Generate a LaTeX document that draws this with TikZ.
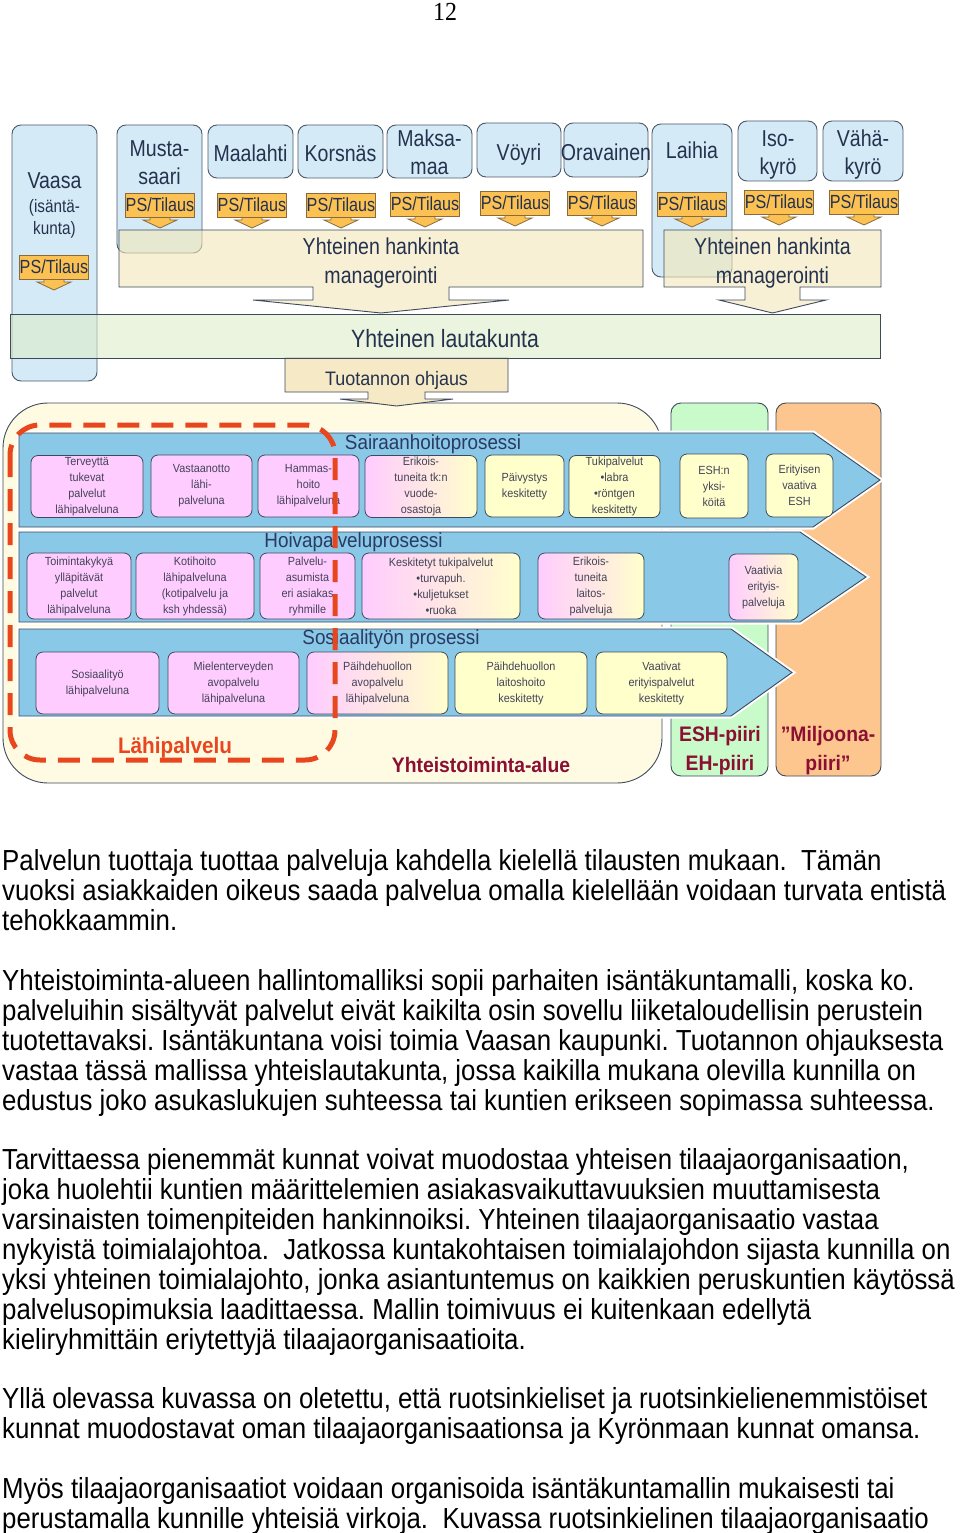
\documentclass[tikz,border=0pt]{standalone}
\usepackage{fontspec}
\setmainfont{Liberation Sans}
\newfontfamily\fN{Liberation Sans}[FakeStretch=0.85]
\newfontfamily\fR{Liberation Sans}[FakeStretch=0.92]
\newfontfamily\fB{Liberation Sans}[FakeStretch=0.89]
\newfontfamily\fS{Liberation Serif}[FakeStretch=0.92]
\definecolor{muniF}{HTML}{D4EAF6}
\definecolor{muniB}{HTML}{4E5A6A}
\definecolor{navy}{HTML}{25324F}
\definecolor{psF}{HTML}{FBC152}
\definecolor{psB}{HTML}{8A6A3A}
\definecolor{hankF}{HTML}{F3E7B8}
\definecolor{lautF}{HTML}{DDEDC9}
\definecolor{ohjF}{HTML}{F6E9C6}
\definecolor{bigF}{HTML}{FFFBE3}
\definecolor{grnF}{HTML}{C9FAC9}
\definecolor{orgF}{HTML}{FDC68E}
\definecolor{arrF}{HTML}{89C8E6}
\definecolor{lineB}{HTML}{3E4A5C}
\definecolor{pinkF}{HTML}{FFCCFF}
\definecolor{yelF}{HTML}{FFFFCC}
\definecolor{boxT}{HTML}{434357}
\definecolor{titleT}{HTML}{2A3A62}
\definecolor{dred}{HTML}{8A0F33}
\definecolor{rorg}{HTML}{E8461E}
\newcommand{\psnode}[3]{%
  \draw[psarr] (#2-10,#3+11) -- (#2-10,#3+15) -- (#2-17,#3+15) -- (#2,#3+23) -- (#2+17,#3+15) -- (#2+10,#3+15) -- (#2+10,#3+11) -- cycle;
  \node[ps] (#1) at (#2,#3) {PS/Tilaus};}
\begin{document}
\frenchspacing
\begin{tikzpicture}[x=1pt,y=-1pt,
  muni/.style={draw=muniB, fill=muniF, rounded corners=9pt, line width=0.9pt, inner sep=0pt},
  munitext/.style={anchor=base, inner sep=0pt, text=navy, font=\fN\fontsize{23}{28}\selectfont},
  ps/.style={draw=psB, fill=psF, line width=0.8pt, inner sep=0pt, minimum width=66, minimum height=24, text=navy, font=\fN\fontsize{19}{22}\selectfont},
  psarr/.style={draw=psB, fill=psF, line width=0.8pt},
  hank/.style={draw=lineB, fill=hankF, fill opacity=0.6, line width=0.9pt},
  ibox/.style={draw=lineB, line width=0.8pt, rounded corners=7pt, inner sep=1pt, align=center, text=boxT, font=\fR\fontsize{11.8}{16}\selectfont},
  pinkbox/.style={ibox, fill=pinkF},
  yelbox/.style={ibox, fill=yelF},
  gradbox/.style={ibox, left color=pinkF, right color=yelF},
  parr/.style={draw=lineB, fill=arrF, line width=0.9pt, preaction={draw=white, line width=5pt}},
  ptitle/.style={anchor=base, text=titleT, font=\fR\fontsize{20.5}{24}\selectfont, inner sep=0pt},
  bigl/.style={anchor=base, inner sep=0pt, font=\fR\bfseries\fontsize{21}{29}\selectfont},
  bodyline/.style={anchor=base west, inner sep=0pt, font=\fB\fontsize{29}{30}\selectfont}
]
\useasboundingbox (0,0) rectangle (960,1533);
\fill[white] (0,0) rectangle (960,1533);

\node[font=\fS\fontsize{26}{30}\selectfont, inner sep=0pt] (pg) at (445,12) {12};

% ---------- lower area containers ----------
\node[draw=lineB, fill=bigF, line width=0.9pt, rounded corners=45pt, minimum width=659, minimum height=380, inner sep=0pt] (yta) at (332.5,593) {};
\node[draw=lineB, fill=grnF, line width=0.9pt, rounded corners=10pt, minimum width=97, minimum height=373, inner sep=0pt] (eshbox) at (719.5,589.5) {};
\node[draw=lineB, fill=orgF, line width=0.9pt, rounded corners=10pt, minimum width=105, minimum height=373, inner sep=0pt] (milbox) at (828.5,589.5) {};
\node[bigl, text=dred] (eshT1) at (720,741) {ESH-piiri};
\node[bigl, text=dred] (eshT2) at (720,770) {EH-piiri};
\node[bigl, text=dred] (milT1) at (828,741) {”Miljoona-};
\node[bigl, text=dred] (milT2) at (828,770) {piiri”};
\node[bigl, text=dred] (ytaT) at (481,772) {Yhteistoiminta-alue};
\node[bigl, text=rorg, font=\fR\bfseries\fontsize{22.5}{29}\selectfont] (lahiT) at (175,753.5) {Lähipalvelu};

% ---------- process arrows ----------
\draw[parr] (19,433) -- (813,433) -- (880,480) -- (813,527) -- (19,527) -- cycle;
\draw[parr] (19,532) -- (800,532) -- (866,577) -- (800,622) -- (19,622) -- cycle;
\draw[parr] (19,629) -- (731,629) -- (792,672.5) -- (731,716) -- (19,716) -- cycle;
\node[ptitle] (t1) at (433,449.5) {Sairaanhoitoprosessi};
\node[ptitle] (t2) at (353.5,547.5) {Hoivapalveluprosessi};
\node[ptitle] (t3) at (391,644.5) {Sosiaalityön prosessi};

% row 1
\node[pinkbox, minimum width=112, minimum height=62] (b11) at (87,486.5) {Terveyttä\\tukevat\\palvelut\\lähipalveluna};
\node[pinkbox, minimum width=101, minimum height=62] (b12) at (201.5,486) {Vastaanotto\\lähi-\\palveluna};
\node[pinkbox, minimum width=101, minimum height=62] (b13) at (308.5,486) {Hammas-\\hoito\\lähipalveluna};
\node[gradbox, minimum width=112, minimum height=62] (b14) at (421,486.5) {Erikois-\\tuneita tk:n\\vuode-\\osastoja};
\node[yelbox, minimum width=79, minimum height=62] (b15) at (524.5,486) {Päivystys\\keskitetty};
\node[yelbox, minimum width=91, minimum height=62] (b16) at (614.5,486.5) {Tukipalvelut\\•labra\\•röntgen\\keskitetty};
\node[yelbox, minimum width=68, minimum height=64] (b17) at (714,486) {ESH:n\\yksi-\\köitä};
\node[yelbox, minimum width=67, minimum height=63] (b18) at (799.5,485.5) {Erityisen\\vaativa\\ESH};
% row 2
\node[pinkbox, minimum width=104, minimum height=66] (b21) at (79,586) {Toimintakykyä\\ylläpitävät\\palvelut\\lähipalveluna};
\node[pinkbox, minimum width=118, minimum height=66] (b22) at (195,586) {Kotihoito\\lähipalveluna\\(kotipalvelu ja\\ksh yhdessä)};
\node[pinkbox, minimum width=95, minimum height=66] (b23) at (307.5,586) {Palvelu-\\asumista\\eri asiakas\\ryhmille};
\node[gradbox, minimum width=158, minimum height=66] (b24) at (441,586) {Keskitetyt tukipalvelut\\•turvapuh.\\•kuljetukset\\•ruoka};
\node[gradbox, minimum width=106, minimum height=66] (b25) at (591,586) {Erikois-\\tuneita\\laitos-\\palveluja};
\node[gradbox, minimum width=69, minimum height=66] (b26) at (763.5,587) {Vaativia\\erityis-\\palveluja};
% row 3
\node[pinkbox, minimum width=123, minimum height=62] (b31) at (97.5,683) {Sosiaalityö\\lähipalveluna};
\node[pinkbox, minimum width=131, minimum height=62] (b32) at (233.5,683) {Mielenterveyden\\avopalvelu\\lähipalveluna};
\node[gradbox, minimum width=141, minimum height=62] (b33) at (377.5,683) {Päihdehuollon\\avopalvelu\\lähipalveluna};
\node[yelbox, minimum width=132, minimum height=62] (b34) at (521,683) {Päihdehuollon\\laitoshoito\\keskitetty};
\node[yelbox, minimum width=131, minimum height=62] (b35) at (661.5,683) {Vaativat\\erityispalvelut\\keskitetty};

% red dashed Lähipalvelu outline
\draw[rorg, line width=5pt, dash pattern=on 22pt off 12pt, rounded corners=30pt] (10,425) rectangle (335,760);

% ---------- top area ----------
\node[muni, minimum width=85, minimum height=256] (vaasa) at (54.5,253) {};
\node[muni, minimum width=85, minimum height=128] (musta) at (159.5,189) {};
\node[muni, minimum width=85, minimum height=53] (maalahti) at (250.5,151.5) {};
\node[muni, minimum width=85, minimum height=53] (korsnas) at (340.5,151.5) {};
\node[muni, minimum width=85, minimum height=53] (maksamaa) at (429.5,151.5) {};
\node[muni, minimum width=84, minimum height=54] (voyri) at (519,150) {};
\node[muni, minimum width=84, minimum height=54] (oravainen) at (606,150) {};
\node[muni, minimum width=80, minimum height=153] (laihia) at (692,200.5) {};
\node[muni, minimum width=79, minimum height=60] (isokyro) at (777.5,151) {};
\node[muni, minimum width=80, minimum height=60] (vahakyro) at (863,151) {};
\node[munitext] (vaasaT) at (54.5,188.5) {Vaasa};
\node[munitext, font=\fN\fontsize{18}{22}\selectfont] (vaasaT2) at (54.5,212) {(isäntä-};
\node[munitext, font=\fN\fontsize{18}{22}\selectfont] (vaasaT3) at (54.5,234) {kunta)};
\node[munitext] (mustaT1) at (159.5,156.5) {Musta-};
\node[munitext] (mustaT2) at (159.5,184.5) {saari};
\node[munitext] (maalahtiT) at (250.5,161.5) {Maalahti};
\node[munitext] (korsnasT) at (340.5,161.5) {Korsnäs};
\node[munitext] (maksaT1) at (429.5,146.5) {Maksa-};
\node[munitext] (maksaT2) at (429.5,174.5) {maa};
\node[munitext] (voyriT) at (519,160.5) {Vöyri};
\node[munitext] (oravT) at (606,160.5) {Oravainen};
\node[munitext] (laihiaT) at (692,158.5) {Laihia};
\node[munitext] (isoT1) at (778,146.5) {Iso-};
\node[munitext] (isoT2) at (778,174.5) {kyrö};
\node[munitext] (vahaT1) at (863,146.5) {Vähä-};
\node[munitext] (vahaT2) at (863,174.5) {kyrö};

% hankinta callouts
\draw[hank] (119,230) -- (643,230) -- (643,287) -- (449,287) -- (449,300) -- (509,300) -- (381,313) -- (253,300) -- (313,300) -- (313,287) -- (119,287) -- cycle;
\draw[hank] (664,230) -- (881,230) -- (881,287) -- (800,287) -- (800,300) -- (826,300) -- (772.5,313) -- (719,300) -- (745,300) -- (745,287) -- (664,287) -- cycle;
\node[munitext] (hankL1) at (381,254.5) {Yhteinen hankinta};
\node[munitext] (hankL2) at (381,283.5) {managerointi};
\node[munitext] (hankR1) at (772.5,254.5) {Yhteinen hankinta};
\node[munitext] (hankR2) at (772.5,283.5) {managerointi};

% PS/Tilaus
\psnode{psV}{54}{267}
\psnode{psM}{160}{205}
\psnode{psMa}{252}{205}
\psnode{psK}{341}{205}
\psnode{psMm}{425}{204}
\psnode{psVo}{515}{203}
\psnode{psO}{602}{203}
\psnode{psL}{692}{204}
\psnode{psI}{779}{202}
\psnode{psVk}{864}{202}

% lautakunta & ohjaus
\draw[draw=lineB, fill=ohjF, line width=0.9pt] (285,358) -- (508,358) -- (508,392) -- (425,392) -- (425,399) -- (453,399) -- (396.5,406) -- (340,399) -- (368,399) -- (368,392) -- (285,392) -- cycle;
\node[anchor=base, inner sep=0pt, text=navy, font=\fR\fontsize{19.5}{22}\selectfont] (ohj) at (396.5,385) {Tuotannon ohjaus};
\node[draw=lineB, fill=lautF, fill opacity=0.6, line width=0.9pt, minimum width=870, minimum height=44, inner sep=0pt] (laut) at (445,336) {};
\node[anchor=base, inner sep=0pt, text=navy, font=\fN\fontsize{25}{28}\selectfont] (lautT) at (445,347) {Yhteinen lautakunta};

% ---------- body text ----------
\node[bodyline] (l1) at (2,870) {Palvelun tuottaja tuottaa palveluja kahdella kielellä tilausten mukaan.\ \ Tämän};
\node[bodyline] (l2) at (2,900) {vuoksi asiakkaiden oikeus saada palvelua omalla kielellään voidaan turvata entistä};
\node[bodyline] (l3) at (2,930) {tehokkaammin.};
\node[bodyline] (l4) at (2,990) {Yhteistoiminta-alueen hallintomalliksi sopii parhaiten isäntäkuntamalli, koska ko.};
\node[bodyline] (l5) at (2,1020) {palveluihin sisältyvät palvelut eivät kaikilta osin sovellu liiketaloudellisin perustein};
\node[bodyline] (l6) at (2,1050) {tuotettavaksi. Isäntäkuntana voisi toimia Vaasan kaupunki. Tuotannon ohjauksesta};
\node[bodyline] (l7) at (2,1080) {vastaa tässä mallissa yhteislautakunta, jossa kaikilla mukana olevilla kunnilla on};
\node[bodyline] (l8) at (2,1110) {edustus joko asukaslukujen suhteessa tai kuntien erikseen sopimassa suhteessa.};
\node[bodyline] (l9) at (2,1169) {Tarvittaessa pienemmät kunnat voivat muodostaa yhteisen tilaajaorganisaation,};
\node[bodyline] (l10) at (2,1199) {joka huolehtii kuntien määrittelemien asiakasvaikuttavuuksien muuttamisesta};
\node[bodyline] (l11) at (2,1229) {varsinaisten toimenpiteiden hankinnoiksi. Yhteinen tilaajaorganisaatio vastaa};
\node[bodyline] (l12) at (2,1259) {nykyistä toimialajohtoa.\ \ Jatkossa kuntakohtaisen toimialajohdon sijasta kunnilla on};
\node[bodyline] (l13) at (2,1289) {yksi yhteinen toimialajohto, jonka asiantuntemus on kaikkien peruskuntien käytössä};
\node[bodyline] (l14) at (2,1319) {palvelusopimuksia laadittaessa. Mallin toimivuus ei kuitenkaan edellytä};
\node[bodyline] (l15) at (2,1349) {kieliryhmittäin eriytettyjä tilaajaorganisaatioita.};
\node[bodyline] (l16) at (2,1408) {Yllä olevassa kuvassa on oletettu, että ruotsinkieliset ja ruotsinkielienemmistöiset};
\node[bodyline] (l17) at (2,1438) {kunnat muodostavat oman tilaajaorganisaationsa ja Kyrönmaan kunnat omansa.};
\node[bodyline] (l18) at (2,1498) {Myös tilaajaorganisaatiot voidaan organisoida isäntäkuntamallin mukaisesti tai};
\node[bodyline] (l19) at (2,1528) {perustamalla kunnille yhteisiä virkoja.\ \ Kuvassa ruotsinkielinen tilaajaorganisaatio};
\end{tikzpicture}
\end{document}
